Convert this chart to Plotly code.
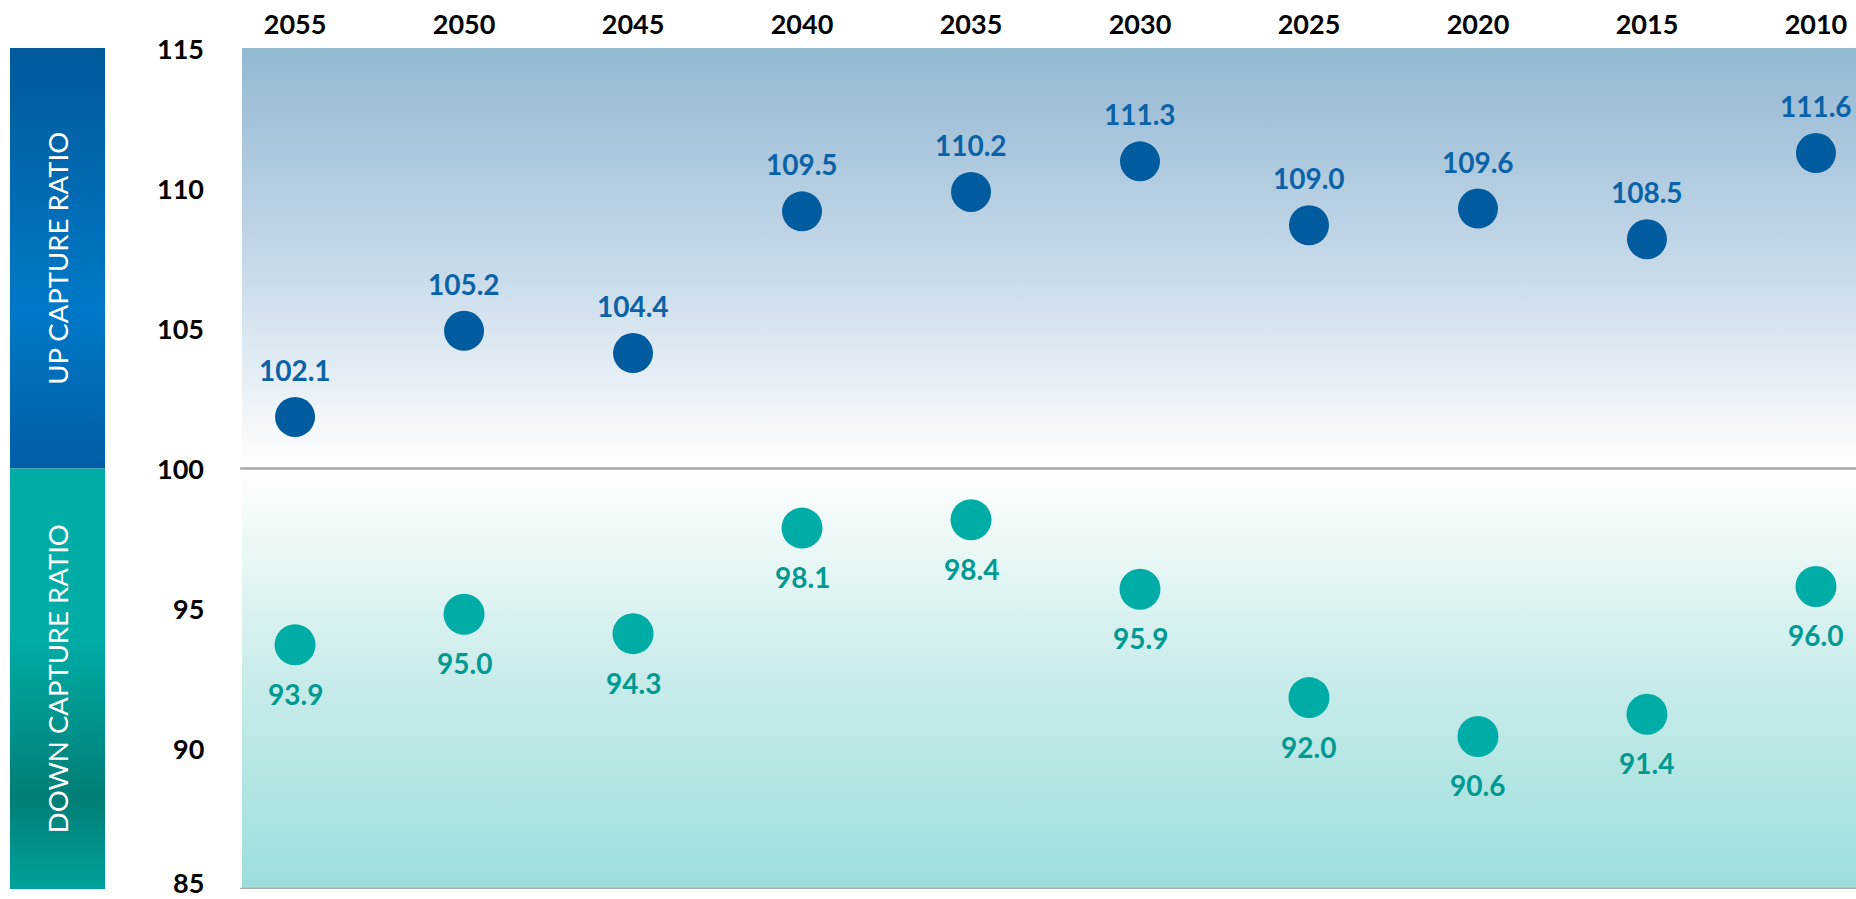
import plotly.graph_objects as go

years = ["2055", "2050", "2045", "2040", "2035", "2030", "2025", "2020", "2015", "2010"]
up_capture = [102.1, 105.2, 104.4, 109.5, 110.2, 111.3, 109.0, 109.6, 108.5, 111.6]
down_capture = [93.9, 95.0, 94.3, 98.1, 98.4, 95.9, 92.0, 90.6, 91.4, 96.0]
y_ticks = [85, 90, 95, 100, 105, 110, 115]

W, H = 1856, 899
PLOT_L = 242
xpos = list(range(len(years)))
XR = [-0.314, 9.237]
YR = [85, 115]
YR_MARK = [85.11, 115.38]

UP_DOT = "#005C9E"
UP_TXT = "#0B62A6"
DN_DOT = "#00ADA6"
DN_TXT = "#009A92"
FONT = "Lato"

fig = go.Figure()

# background gradients in plot area
fig.add_trace(go.Scatter(
    x=[XR[0], XR[1], XR[1], XR[0], XR[0]], y=[100, 100, 115, 115, 100],
    fill="toself", mode="none", hoverinfo="skip", showlegend=False,
    fillgradient=dict(type="vertical", start=100, stop=115,
                      colorscale=[[0, "#FFFFFF"], [0.5, "#C4D8E8"], [1, "#93B8D3"]])))
fig.add_trace(go.Scatter(
    x=[XR[0], XR[1], XR[1], XR[0], XR[0]], y=[85, 85, 100, 100, 85],
    fill="toself", mode="none", hoverinfo="skip", showlegend=False,
    fillgradient=dict(type="vertical", start=85, stop=100,
                      colorscale=[[0, "#9CDEDB"], [0.5, "#C8ECEA"], [1, "#FFFFFF"]])))

# side bars
fig.add_trace(go.Scatter(
    x=[0, 1, 1, 0, 0], y=[100, 100, 115, 115, 100], xaxis="x2", yaxis="y2",
    fill="toself", mode="none", hoverinfo="skip", showlegend=False,
    fillgradient=dict(type="vertical", start=100, stop=115,
                      colorscale=[[0, "#005EA6"], [0.38, "#0079C8"], [1, "#005A9A"]])))
fig.add_trace(go.Scatter(
    x=[0, 1, 1, 0, 0], y=[85, 85, 100, 100, 85], xaxis="x2", yaxis="y2",
    fill="toself", mode="none", hoverinfo="skip", showlegend=False,
    fillgradient=dict(type="vertical", start=85, stop=100,
                      colorscale=[[0, "#00A29B"], [0.22, "#007E77"], [0.6, "#00ADA6"], [1, "#00ADA6"]])))

# data (on an overlay axis sharing the plot area)
fig.add_trace(go.Scatter(x=xpos, y=up_capture, mode="markers", showlegend=False, yaxis="y3",
                         marker=dict(size=40, color=UP_DOT), hoverinfo="skip"))
fig.add_trace(go.Scatter(x=xpos, y=down_capture, mode="markers", showlegend=False, yaxis="y3",
                         marker=dict(size=41, color=DN_DOT), hoverinfo="skip"))

annotations = []
for xv, v in zip(xpos, up_capture):
    annotations.append(dict(x=xv, y=v, xref="x", yref="y3", text=f"{v:.1f}", showarrow=False,
                            yshift=47, font=dict(family=FONT, size=28, color=UP_TXT, weight="bold")))
for xv, v in zip(xpos, down_capture):
    annotations.append(dict(x=xv, y=v, xref="x", yref="y3", text=f"{v:.1f}", showarrow=False,
                            yshift=-49, font=dict(family=FONT, size=28, color=DN_TXT, weight="bold")))
for t in y_ticks:
    annotations.append(dict(x=206 / W, y=t, xref="paper", yref="y", text=str(t), showarrow=False,
                            xanchor="right", yanchor="middle", yshift=(7 if t == min(y_ticks) else 0),
                            font=dict(family=FONT, size=27, color="#000000", weight="bold")))
annotations.append(dict(x=0.5, y=107.5, xref="x2", yref="y2", text="UP CAPTURE RATIO",
                        showarrow=False, textangle=-90,
                        font=dict(family=FONT, size=27.5, color="#FFFFFF")))
annotations.append(dict(x=0.5, y=92.5, xref="x2", yref="y2", text="DOWN CAPTURE RATIO",
                        showarrow=False, textangle=-90,
                        font=dict(family=FONT, size=27.5, color="#FFFFFF")))

shapes = [
    dict(type="line", xref="paper", yref="y", x0=PLOT_L / W - 0.001, x1=1, y0=100, y1=100,
         line=dict(color="#A9A9A9", width=2.5)),
    dict(type="line", xref="paper", yref="y", x0=PLOT_L / W - 0.001, x1=1, y0=85, y1=85,
         line=dict(color="#A9A9A9", width=2.5)),
]

fig.update_layout(
    width=W, height=H,
    margin=dict(l=0, r=0, t=48, b=10),
    paper_bgcolor="#FFFFFF", plot_bgcolor="#FFFFFF",
    font=dict(family=FONT, color="#000000"),
    xaxis=dict(domain=[PLOT_L / W, 1], range=XR, side="top", tickvals=xpos, ticktext=years,
               showgrid=False, zeroline=False, showline=False, ticks="",
               ticklabelstandoff=8,
               tickfont=dict(family=FONT, size=27, color="#000000", weight="bold")),
    yaxis=dict(range=YR, showticklabels=False,
               showgrid=False, zeroline=False, showline=False, ticks=""),
    yaxis3=dict(range=YR_MARK, overlaying="y", anchor="x", visible=False),
    xaxis2=dict(domain=[10 / W, 105 / W], range=[0, 1], visible=False, anchor="y2"),
    yaxis2=dict(domain=[0, 1], range=YR, visible=False, anchor="x2"),
    annotations=annotations,
    shapes=shapes,
)

fig.write_html("out.html", config={"displayModeBar": False},
               post_script="document.body.style.margin='0';document.body.style.overflow='hidden';")
